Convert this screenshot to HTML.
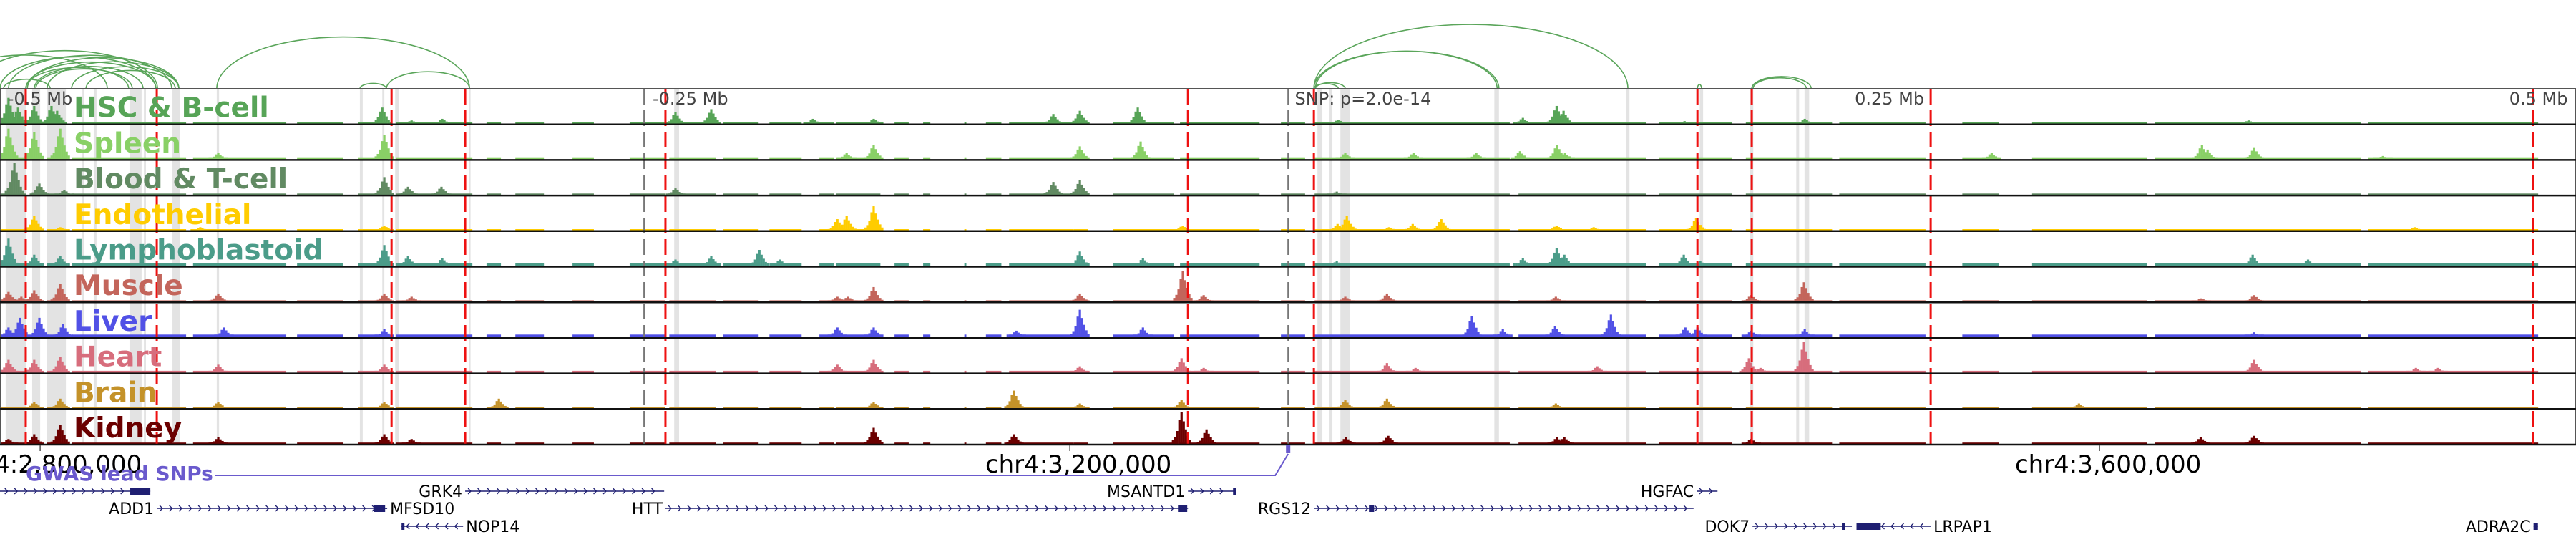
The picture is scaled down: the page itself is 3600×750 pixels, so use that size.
<!DOCTYPE html>
<html><head><meta charset="utf-8">
<style>
html,body{margin:0;padding:0;background:#fff;}
svg{display:block;font-family:"DejaVu Sans","Liberation Sans",sans-serif;}
</style></head>
<body>
<svg id="chart" width="3600" height="750" viewBox="0 0 3600 750" xmlns="http://www.w3.org/2000/svg">
<g id="bands"></g>
<g id="arcs"></g>
<g id="tracks"></g>
<g id="vlines"></g>
<g id="frame"></g>
<g id="labels"></g>
<g id="axis"></g>
<g id="gwas"></g>
<g id="genes"></g>
</svg>
<script>
// ---- data (positions in kb from window start, chr4:2,784,430) ----
const tissueNames = ["HSC & B-cell","Spleen","Blood & T-cell","Endothelial","Lymphoblastoid","Muscle","Liver","Heart","Brain","Kidney"];
const baseLevel = [0.04,0.06,0.04,0.04,0.1,0.04,0.08,0.06,0.04,0.04];
const peaksHSC = [[3.3,0.8],[7.0,0.5],[13.3,0.55],[20.0,0.55],[22.2,0.4],[148.5,0.5],[159.9,0.1],[171.8,0.15],[262.4,0.35],[276.3,0.45],[315.8,0.15],[339.4,0.15],[409.2,0.3],[419.5,0.4],[442.0,0.5],[519.9,0.12],[591.6,0.18],[604.7,0.55],[607.4,0.4],[654.4,0.08],[701.1,0.15],[873.5,0.1]];
const peaksSpleen = [[3.3,0.95],[13.3,0.85],[23.4,0.95],[84.8,0.2],[149.3,0.75],[328.9,0.2],[339.4,0.45],[419.5,0.4],[443.1,0.55],[522.6,0.2],[549.1,0.2],[573.5,0.2],[590.5,0.25],[604.9,0.45],[608.0,0.2],[773.7,0.2],[855.4,0.45],[857.6,0.3],[875.7,0.35],[925.7,0.1]];
const peaksBlood = [[5.6,1.0],[15.3,0.35],[25.0,0.15],[149.3,0.55],[158.5,0.25],[171.5,0.25],[262.4,0.2],[409.2,0.4],[419.5,0.45],[519.3,0.1]];
const peaksEndo = [[13.3,0.45],[23.4,0.1],[77.8,0.1],[149.3,0.15],[325.3,0.35],[328.9,0.45],[339.4,0.75],[459.5,0.15],[519.6,0.2],[523.2,0.45],[539.6,0.1],[548.8,0.2],[559.9,0.35],[604.7,0.15],[619.1,0.1],[658.9,0.38],[938.0,0.1]];
const peaksLympho = [[3.3,0.85],[13.3,0.35],[23.4,0.3],[149.3,0.65],[158.5,0.3],[171.8,0.25],[262.4,0.2],[276.3,0.3],[295.0,0.5],[303.0,0.2],[419.5,0.45],[444.0,0.25],[519.3,0.15],[591.6,0.25],[604.7,0.55],[607.7,0.35],[654.1,0.35],[660.5,0.15],[875.1,0.35],[896.6,0.2],[925.7,0.1]];
const peaksMuscle = [[3.3,0.3],[8.3,0.15],[13.3,0.35],[23.4,0.55],[84.8,0.25],[149.3,0.25],[159.9,0.15],[325.3,0.15],[329.4,0.15],[339.4,0.45],[419.5,0.25],[459.5,0.95],[467.6,0.2],[522.6,0.15],[538.8,0.25],[604.4,0.15],[680.3,0.2],[700.8,0.6],[855.1,0.1],[875.7,0.2]];
const peaksLiver = [[3.3,0.3],[7.8,0.6],[15.3,0.6],[24.5,0.4],[87.0,0.3],[149.3,0.25],[325.3,0.3],[339.4,0.3],[394.8,0.2],[419.5,0.85],[444.0,0.3],[571.8,0.65],[583.8,0.25],[604.1,0.35],[625.8,0.7],[654.7,0.3],[659.4,0.3],[680.3,0.2],[701.1,0.25],[875.7,0.15]];
const peaksHeart = [[3.3,0.4],[13.3,0.4],[23.4,0.5],[84.8,0.25],[149.3,0.25],[325.3,0.25],[339.4,0.4],[419.5,0.2],[459.0,0.45],[467.6,0.15],[538.8,0.3],[549.9,0.15],[620.5,0.2],[679.4,0.45],[683.9,0.15],[700.8,0.95],[875.7,0.4],[938.5,0.15],[947.1,0.15]];
const peaksBrain = [[13.3,0.2],[23.4,0.3],[84.8,0.2],[149.3,0.2],[193.8,0.3],[339.4,0.2],[393.9,0.55],[419.5,0.15],[459.0,0.25],[522.6,0.25],[538.8,0.3],[604.4,0.15],[807.6,0.15]];
const peaksKidney = [[3.3,0.15],[13.3,0.3],[23.4,0.6],[84.8,0.2],[149.3,0.3],[159.9,0.15],[339.4,0.5],[393.9,0.3],[459.0,1.0],[468.7,0.45],[522.9,0.2],[539.3,0.25],[604.9,0.2],[607.7,0.2],[680.3,0.15],[854.9,0.2],[875.7,0.25]];
const coverage = [[0,10],[12.5,15.6],[18.3,25.6],[27.8,72.3],[75,111.2],[115.4,133.4],[139,150.1],[153.7,183.5],[189,194.6],[200.2,211.3],[222.4,230.7],[244.6,258.5],[260,278],[280.8,294.7],[298.9,311.4],[318.3,323.9],[324.7,342],[347.5,353],[358.6,361.4],[374.6,375.4],[383,389],[392,417],[417,422.7],[432.3,456],[458.4,489.3],[497.6,507],[510.7,586.5],[589.9,639.5],[644.5,672.7],[678.2,711.7],[714.5,748],[762.3,776.5],[789.4,834],[837,917.2],[920,986]];
const tissueColors = ["#57a457","#89d066","#618a62","#ffcc00","#4b9c89","#c3655b","#5151e6","#d76d7c","#c49229","#6b0000"];
const redLines = [10.0,60.9,152.1,180.7,258.5,461.5,510.4,659.4,680.5,750.0,984.1];
const grayLines = [250.2,500.4];
const bands = [[2.2,10],[12.5,15.6],[18.3,25.6],[32,32.8],[36.4,37.5],[50.3,55],[55.9,56.7],[67,69.8],[84.2,85.1],[139.8,140.9],[148.5,149.3],[153.5,155.1],[182.2,182.8],[261.9,263.8],[511.8,513.7],[516.2,517.6],[520.7,524.3],[580.5,582.3],[631.6,633],[660.3,661.6],[679.7,681.1],[697.8,698.9],[701,702.8]];
const arcPairs = [[0,60.6],[3.3,66.7],[10,60.6],[13.3,55.6],[18.3,69.5],[-22.2,41.7],[10,50],[27.8,69.5],[33.4,68.1],[1.4,19.5],[13.9,51.4],[-11.1,61.2],[10.6,69.5],[84.2,182.4],[139.8,150.1],[150.1,182.4],[510.4,581.6],[511,582.3],[510.4,632.4],[510.4,519.9],[511,522.6],[659.4,661],[680.5,703.6],[681,701.7]];
const tickPositions = [15.6,415.6,815.6];
const tickLabels = ["chr4:2,800,000","chr4:3,200,000","chr4:3,600,000"];
const rulerLabels = [["-0.5 Mb",3,"start"],["-0.25 Mb",253.5,"start"],["SNP: p=2.0e-14",503,"start"],["0.25 Mb",747.5,"end"],["0.5 Mb",997.5,"end"]];
const snpPos = 500.4;
const geneNames = ["BP2","GRK4","MSANTD1","HGFAC","ADD1","MFSD10","HTT","RGS12","NOP14","DOK7","LRPAP1","ADRA2C"];
const geneRows = [0,0,0,0,1,1,1,1,2,2,2,2];
const geneStarts = [-3,180.7,461.5,659.1,60.9,146,258.5,510.4,155.7,680.8,721.2,984.2];
const geneEnds = [58.4,258,479.8,667.2,150.4,150.4,461.5,657.9,179.9,719.4,750,985.9];
const geneStrands = [1,1,1,1,1,-1,1,1,-1,1,-1,1];
const geneExons = [[[50.6,58.4]],[],[[479,479.8]],[],[[145.1,149.6]],[],[[457.6,461.2]],[[531.8,533.8]],[[156,156.7]],[[715.5,716]],[[721.2,730.6]],[[984.2,985.9]]];
const geneLabelSide = ["l","l","l","l","l","r0","l","l","r","l","r","l"];

// ---- scales ----
const S = 3.5975;
const NS = "http://www.w3.org/2000/svg";
function X(kb){ return kb * S; }
const TOP = 124, TH = 49.7, NT = 10;
function trackBottom(i){ return TOP + (i + 1) * TH; }
function Y(i, frac){ return trackBottom(i) - 1 - frac * 45; }
function mk(tag, attrs, parent){
  const e = document.createElementNS(NS, tag);
  for (const k in attrs) e.setAttribute(k, attrs[k]);
  parent.appendChild(e);
  return e;
}
const gBands = document.getElementById('bands');
const gArcs = document.getElementById('arcs');
const gTracks = document.getElementById('tracks');
const gV = document.getElementById('vlines');
const gFrame = document.getElementById('frame');
const gLab = document.getElementById('labels');
const gAxis = document.getElementById('axis');
const gGwas = document.getElementById('gwas');
const gGenes = document.getElementById('genes');

bands.forEach(b => {
  const r = mk('rect', {x: X(b[0]), y: TOP, width: Math.max(2, X(b[1]) - X(b[0])), height: NT * TH, fill: '#e3e3e3'}, gBands);
  
  
});

arcPairs.forEach(a => {
  const x1 = X(a[0]), x2 = X(a[1]);
  const rx = (x2 - x1) / 2, ry = Math.max(6, (x2 - x1) * 0.205);
  const p = mk('path', {d: `M${x1},${TOP} A${rx},${ry} 0 0 1 ${x2},${TOP}`, fill: 'none', stroke: '#5aa55a', 'stroke-width': 1.6}, gArcs);
  
  
});

const allPeaks = [peaksHSC, peaksSpleen, peaksBlood, peaksEndo, peaksLympho, peaksMuscle, peaksLiver, peaksHeart, peaksBrain, peaksKidney];
const shape = [[-12,0.12],[-9,0.22],[-6,0.4],[-3,0.75],[0,1],[3,0.7],[6,0.45],[9,0.25],[12,0.12]];
for (let i = 0; i < NT; i++){
  const g = mk('g', {fill: tissueColors[i]}, gTracks);
  
  
  const yb = trackBottom(i) - 1;
  coverage.forEach(c => {
    const h = baseLevel[i] * 45;
    mk('rect', {x: X(c[0]), y: yb - h, width: X(c[1]) - X(c[0]), height: h}, g);
  });
  allPeaks[i].forEach(p => {
    const cx = X(p[0]);
    shape.forEach(s => {
      const f = Math.max(baseLevel[i], p[1] * s[1]);
      const y = Y(i, f);
      const r = mk('rect', {x: cx + s[0] - 1.6, y: y, width: 3.2, height: yb - y}, g);
      
      
    });
  });
}

redLines.forEach(v => {
  const l = mk('line', {x1: X(v), x2: X(v), y1: TOP, y2: trackBottom(NT - 1), stroke: '#ee1111', 'stroke-width': 3, 'stroke-dasharray': '22 8'}, gV);
  
  
});
grayLines.forEach(v => {
  const l = mk('line', {x1: X(v), x2: X(v), y1: TOP, y2: trackBottom(NT - 1), stroke: '#777', 'stroke-width': 2, 'stroke-dasharray': '22 8'}, gV);
  
  
});

mk('line', {x1: 0, x2: 3600, y1: TOP, y2: TOP, stroke: '#555', 'stroke-width': 2}, gFrame);
mk('line', {x1: 1, x2: 1, y1: TOP, y2: trackBottom(NT - 1), stroke: '#555', 'stroke-width': 2}, gFrame);
mk('line', {x1: 3599, x2: 3599, y1: TOP, y2: trackBottom(NT - 1), stroke: '#555', 'stroke-width': 2}, gFrame);
for (let i = 0; i < NT; i++){
  mk('line', {x1: 0, x2: 3600, y1: trackBottom(i), y2: trackBottom(i), stroke: '#111', 'stroke-width': 2.5}, gFrame);
}

rulerLabels.forEach(r => {
  const t = mk('text', {x: X(r[1]), y: 146, 'font-size': 24, fill: '#444', 'text-anchor': r[2]}, gLab);
  t.textContent = r[0];
  
  
});
for (let i = 0; i < NT; i++){
  const t = mk('text', {x: 103, y: trackBottom(i) - 10, 'font-size': 39, 'font-weight': 'bold', fill: tissueColors[i]}, gLab);
  t.textContent = tissueNames[i];
  
  
}

tickPositions.forEach((p, k) => {
  mk('line', {x1: X(p), x2: X(p), y1: trackBottom(NT - 1), y2: trackBottom(NT - 1) + 9, stroke: '#555', 'stroke-width': 1.5}, gAxis);
  const t = mk('text', {x: X(p) + 12, y: 660, 'font-size': 34, 'text-anchor': 'middle', fill: '#000'}, gAxis);
  t.textContent = tickLabels[k];
  
  
});

const gt = mk('text', {x: 36, y: 671, 'font-size': 28, 'font-weight': 'bold', fill: '#6a5acd'}, gGwas);
gt.textContent = 'GWAS lead SNPs';


const sx = X(snpPos);
mk('polyline', {points: `300,664 ${sx - 18},664 ${sx},634`, fill: 'none', stroke: '#6a5acd', 'stroke-width': 2}, gGwas);
const sr = mk('rect', {x: sx - 3, y: 622, width: 6, height: 11, fill: '#6a5acd'}, gGwas);



const rowY = [686, 710, 735];
geneNames.forEach((name, k) => {
  const g = mk('g', {}, gGenes);
  
  
  const y = rowY[geneRows[k]];
  const x1 = X(geneStarts[k]), x2 = X(geneEnds[k]);
  const col = '#1f1f72';
  mk('line', {x1: x1, x2: x2, y1: y, y2: y, stroke: col, 'stroke-width': 1.5}, g);
  const d = geneStrands[k];
  for (let x = x1 + 8; x < x2 - 4; x += 13.5){
    mk('polyline', {points: `${x - 4 * d},${y - 4} ${x},${y} ${x - 4 * d},${y + 4}`, fill: 'none', stroke: col, 'stroke-width': 1.3}, g);
  }
  geneExons[k].forEach(e => {
    mk('rect', {x: X(e[0]), y: y - 5, width: Math.max(4, X(e[1]) - X(e[0])), height: 10, fill: col}, g);
  });
  const side = geneLabelSide[k];
  let t;
  if (side === 'l') t = mk('text', {x: x1 - 4, y: y + 8, 'font-size': 22, 'text-anchor': 'end', fill: '#000'}, g);
  else t = mk('text', {x: x2 + 4, y: y + 8, 'font-size': 22, fill: '#000'}, g);
  t.textContent = name;
});
</script>
</body></html>
